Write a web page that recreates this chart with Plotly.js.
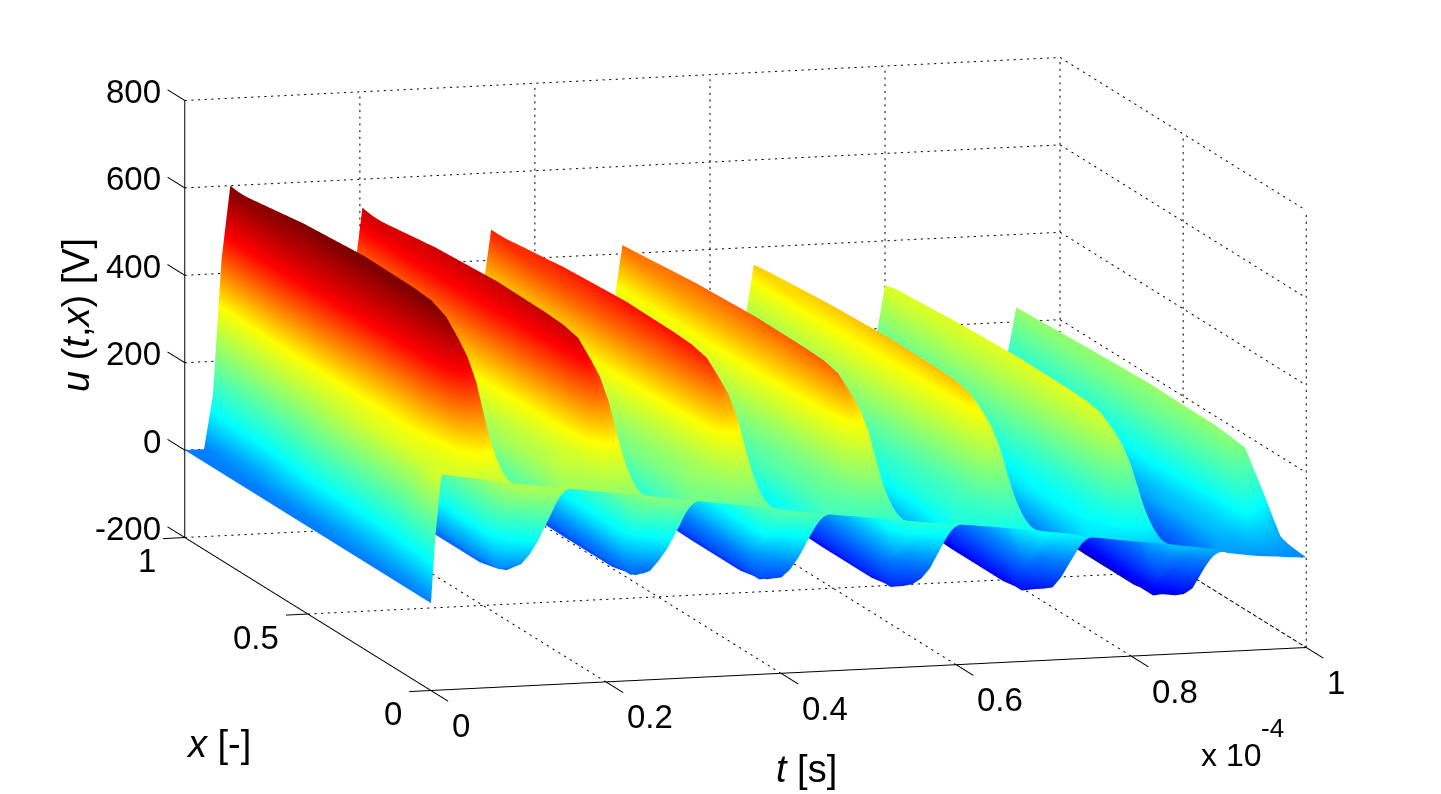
<!DOCTYPE html>
<html><head><meta charset="utf-8">
<script src="https://cdn.plot.ly/plotly-3.0.1.min.js"></script>
<style>html,body{margin:0;padding:0;background:#fff}#c{width:1441px;height:794px}</style>
</head><body><div id="c"></div>
<script>
const positions = [0,0.05,0.1,0.135,0.17,0.23,0.3,0.5,0.75,1];
const times = [0,.005,.012,.022,.032,.042,.052,.065,.08,.095,.11,.125,.14,
 .151,.163,.173,.183,.193,.203,.216,.231,.246,.261,.276,.291,
 .298,.31,.32,.33,.34,.35,.363,.378,.393,.408,.423,.438,
 .448,.46,.47,.48,.49,.5,.513,.528,.543,.558,.573,.588,
 .598,.61,.62,.63,.64,.65,.663,.678,.693,.708,.723,.738,
 .748,.76,.77,.78,.79,.8,.813,.828,.843,.858,.873,.888,
 .898,.91,.92,.93,.94,.95,.963,.978,1];
const voltage = [
[0,0,0,0,0,0,0,0,0,0],[150,60,5,0,0,0,0,0,0,0],[293,285,230,160,100,65,40,12,0,0],[290,292,285,295,300,300,300,240,36,0],
[287,292,300,308,312,312,312,300,270,120],[283,315,330,352,380,376,372,408,450,432],[280,340,420,450,470,480,492,528,558,600],
[275,375,480,541,590,606,610,612,600,578],[268,360,462,507,535,548,558,560,548,548],[264,260,225,255,284,300,316,347,360,379],
[260,210,150,122,94,100,107,126,158,158],[255,198,140,70,6,6,6,19,31,31],[250,180,105,55,10,-15,-25,-25,-20,-20],
[248,170,95,50,15,-20,-30,-32,-30,-30],[245,245,215,190,166,115,70,-21,-32,-32],[242,250,270,262,252,252,252,195,2,-32],
[239,255,285,275,263,263,263,252,223,81],[236,265,285,295,305,312,320,354,393,376],[233,295,365,385,393,413,433,467,495,535],
[229,327,428,480,526,535,538,540,530,510],[225,312,405,448,473,488,498,495,484,484],[221,216,181,210,238,253,268,298,310,327],
[217,167,107,84,61,66,72,90,120,120],[212,158,100,40,-22,-22,-22,-10,1,1],[207,140,70,25,-20,-40,-50,-50,-46,-46],
[205,130,60,20,-15,-46,-56,-58,-56,-58],[202,202,175,152,129,80,38,-47,-58,-58],[199,205,220,215,209,209,209,155,-26,-58],
[196,210,235,228,219,219,219,209,182,49],[193,225,245,250,258,265,272,304,342,326],[190,250,320,335,342,360,379,411,438,470],
[186,278,374,423,466,475,478,480,470,452],[182,264,352,393,416,431,440,437,426,426],[178,173,138,168,198,212,225,253,264,280],
[173,123,63,47,31,36,42,59,87,87],[168,118,70,12,-47,-47,-47,-36,-25,-25],[163,100,35,-5,-45,-65,-74,-74,-69,-69],
[160,95,25,-15,-45,-70,-78,-80,-78,-80],[157,157,130,113,97,52,11,-70,-80,-80],[154,160,175,173,172,172,172,122,-50,-80],
[152,165,190,186,183,183,183,172,147,21],[149,180,205,208,213,222,233,263,299,284],[146,205,270,288,299,316,334,364,390,420],
[143,233,326,374,416,425,427,428,420,405],[139,219,305,345,368,382,390,388,378,378],[135,130,95,125,157,170,184,211,221,237],
[131,81,21,8,-4,1,7,23,50,50],[127,78,28,-25,-79,-79,-79,-68,-57,-57],[123,60,-5,-45,-78,-97,-105,-105,-100,-100],
[122,55,-15,-50,-75,-100,-109,-111,-109,-111],[119,119,90,73,56,15,-25,-101,-111,-111],[117,122,135,131,127,127,127,79,-82,-111],
[114,128,150,143,137,137,137,127,103,-16],[112,142,162,165,170,177,184,213,246,232],[109,165,225,240,246,262,279,308,332,360],
[106,189,274,318,357,365,367,368,360,347],[102,176,255,291,312,325,333,331,322,322],[98,93,58,88,117,130,141,166,176,191],
[93,43,-17,-25,-33,-28,-23,-8,17,17],[89,45,-5,-55,-102,-102,-102,-92,-82,-82],[84,20,-45,-80,-100,-120,-127,-127,-122,-122],
[78,15,-50,-85,-100,-122,-130,-132,-130,-132],[75,75,50,35,20,-20,-54,-123,-132,-132],[72,78,88,86,85,85,85,42,-106,-132],
[69,82,100,97,94,94,94,85,64,-45],[66,95,115,118,122,130,138,164,194,181],[63,120,180,188,194,210,225,251,273,299],
[60,138,218,259,296,303,305,306,299,288],[56,125,199,234,254,266,273,271,264,264],[52,47,12,43,74,85,96,119,129,142],
[47,-3,-63,-64,-64,-60,-55,-41,-18,-18],[43,0,-50,-95,-128,-128,-128,-119,-110,-110],[38,-20,-85,-110,-125,-142,-151,-151,-147,-147],
[35,-25,-90,-115,-130,-148,-154,-156,-154,-156],[25,25,0,-10,-20,-55,-85,-148,-156,-156],[22,28,38,40,41,41,41,1,-132,-156],
[19,32,50,49,48,48,48,41,21,-77],[16,45,70,70,72,80,88,111,139,127],[14,60,125,135,139,152,166,190,209,233],
[12,50,120,175,217,223,229,231,225,217],[9,35,80,150,200,205,209,205,198,198],[6,9,13,50,89,130,165,160,165,168]
];
const tTicks = [0,0.2,0.4,0.6,0.8,1];
const xTicks = [0,0.5,1];
const uTicks = [-200,0,200,400,600,800];
const fam = '"Liberation Sans", Arial, sans-serif';
const jet = [[0,'rgb(0,0,110)'],[0.05,'rgb(0,0,160)'],[0.11,'rgb(0,0,255)'],[0.25,'rgb(0,128,255)'],[0.36,'rgb(0,255,255)'],[0.66,'rgb(255,255,0)'],[0.86,'rgb(255,0,0)'],[1,'rgb(128,0,0)']];

const gx=[],gy=[],gz=[],sx=[],sy=[],sz=[];
function dotted(a,b,n){
  for(let i=0;i<n;i++){
    const f=i/n,g=(i+0.32)/n;
    for(const q of [f,g]){gx.push(a[0]+(b[0]-a[0])*q);gy.push(a[1]+(b[1]-a[1])*q);gz.push(a[2]+(b[2]-a[2])*q);}
    gx.push(null);gy.push(null);gz.push(null);
  }
}
function solid(a,b){sx.push(a[0],b[0],null);sy.push(a[1],b[1],null);sz.push(a[2],b[2],null);}
const nT=132,nX=43,nU=65;
uTicks.forEach(u=>{dotted([0,1,u],[1,1,u],nT);dotted([1,1,u],[1,0,u],nX);});
tTicks.forEach(t=>{if(t>0)dotted([t,1,-200],[t,1,800],nU);dotted([t,0,-200],[t,1,-200],nX);});
xTicks.forEach(x=>{dotted([1,x,-200],[1,x,800],nU);if(x>0)dotted([0,x,-200],[1,x,-200],nT);});
solid([0,1,-200],[0,1,800]);solid([0,0,-200],[0,1,-200]);solid([0,0,-200],[1,0,-200]);
uTicks.forEach(u=>solid([0,1,u],[0,1.07,u]));
xTicks.forEach(x=>solid([0,x,-200],[-0.025,x,-200]));
tTicks.forEach(t=>solid([t,0,-200],[t,-0.07,-200]));

const surface = {type:'surface',x:times,y:positions,
  z:positions.map((_,j)=>voltage.map(r=>r[j])),
  colorscale:jet,cmin:-200,cmax:600,showscale:false,hoverinfo:'skip',
  lighting:{ambient:1,diffuse:0,specular:0,roughness:1,fresnel:0},
  contours:{x:{show:false},y:{show:false},z:{show:false}}};
const grid = {type:'scatter3d',mode:'lines',x:gx,y:gy,z:gz,connectgaps:false,hoverinfo:'skip',showlegend:false,
  line:{color:'#000',width:2}};
const frame = {type:'scatter3d',mode:'lines',x:sx,y:sy,z:sz,connectgaps:false,hoverinfo:'skip',showlegend:false,
  line:{color:'#000',width:2}};

const axisBase = {visible:false,showgrid:false,zeroline:false,showbackground:false,showspikes:false,showticklabels:false};
const lab = (x,y,z,text,xanchor,xshift,yshift)=>({x,y,z,text,showarrow:false,xanchor,yanchor:'middle',xshift,yshift,font:{family:fam,size:33,color:'#000'}});
const sceneAnn = [
  ...tTicks.map(t=>lab(t,0,-200,String(t),'left',19,-35)),
  ...xTicks.map(x=>lab(0,x,-200,String(x),'right',-27,-23)),
  ...uTicks.map(u=>lab(0,1,u,String(u),'right',-22,9))
];
const paperText=(px,py,text,size,angle)=>({xref:'paper',yref:'paper',x:px/1441,y:1-py/794,text,showarrow:false,xanchor:'center',yanchor:'middle',textangle:angle||0,font:{family:fam,size,color:'#000'}});

const layout = {width:1441,height:794,margin:{l:0,r:0,t:0,b:0},paper_bgcolor:'#fff',showlegend:false,
  annotations:[
    paperText(76,315,'<i>u</i> (<i>t</i>,<i>x</i>) [V]',38,-90),
    paperText(218,744,'<i>x</i> [-]',38),
    paperText(806,769,'<i>t</i> [s]',38),
    paperText(1231,755,'x 10',32),
    paperText(1272,728,'-4',26)
  ],
  scene:{domain:{x:[0.0355,0.9995],y:[0.0605,0.9975]},
    bgcolor:'#fff',aspectmode:'manual',aspectratio:{x:2.933,y:2.933,z:1.432},
    camera:{projection:{type:'orthographic'},up:{x:0,y:0,z:1},center:{x:0,y:0,z:0},
      eye:{x:-0.2666*4,y:-0.948*4,z:0.1748*4}},
    xaxis:{...axisBase,range:[-0.1,1.1]},
    yaxis:{...axisBase,range:[-0.1,1.1]},
    zaxis:{...axisBase,range:[-300,900]},
    annotations:sceneAnn}
};
Plotly.newPlot('c',[grid,frame,surface],layout,{displayModeBar:false,responsive:false});
</script></body></html>
